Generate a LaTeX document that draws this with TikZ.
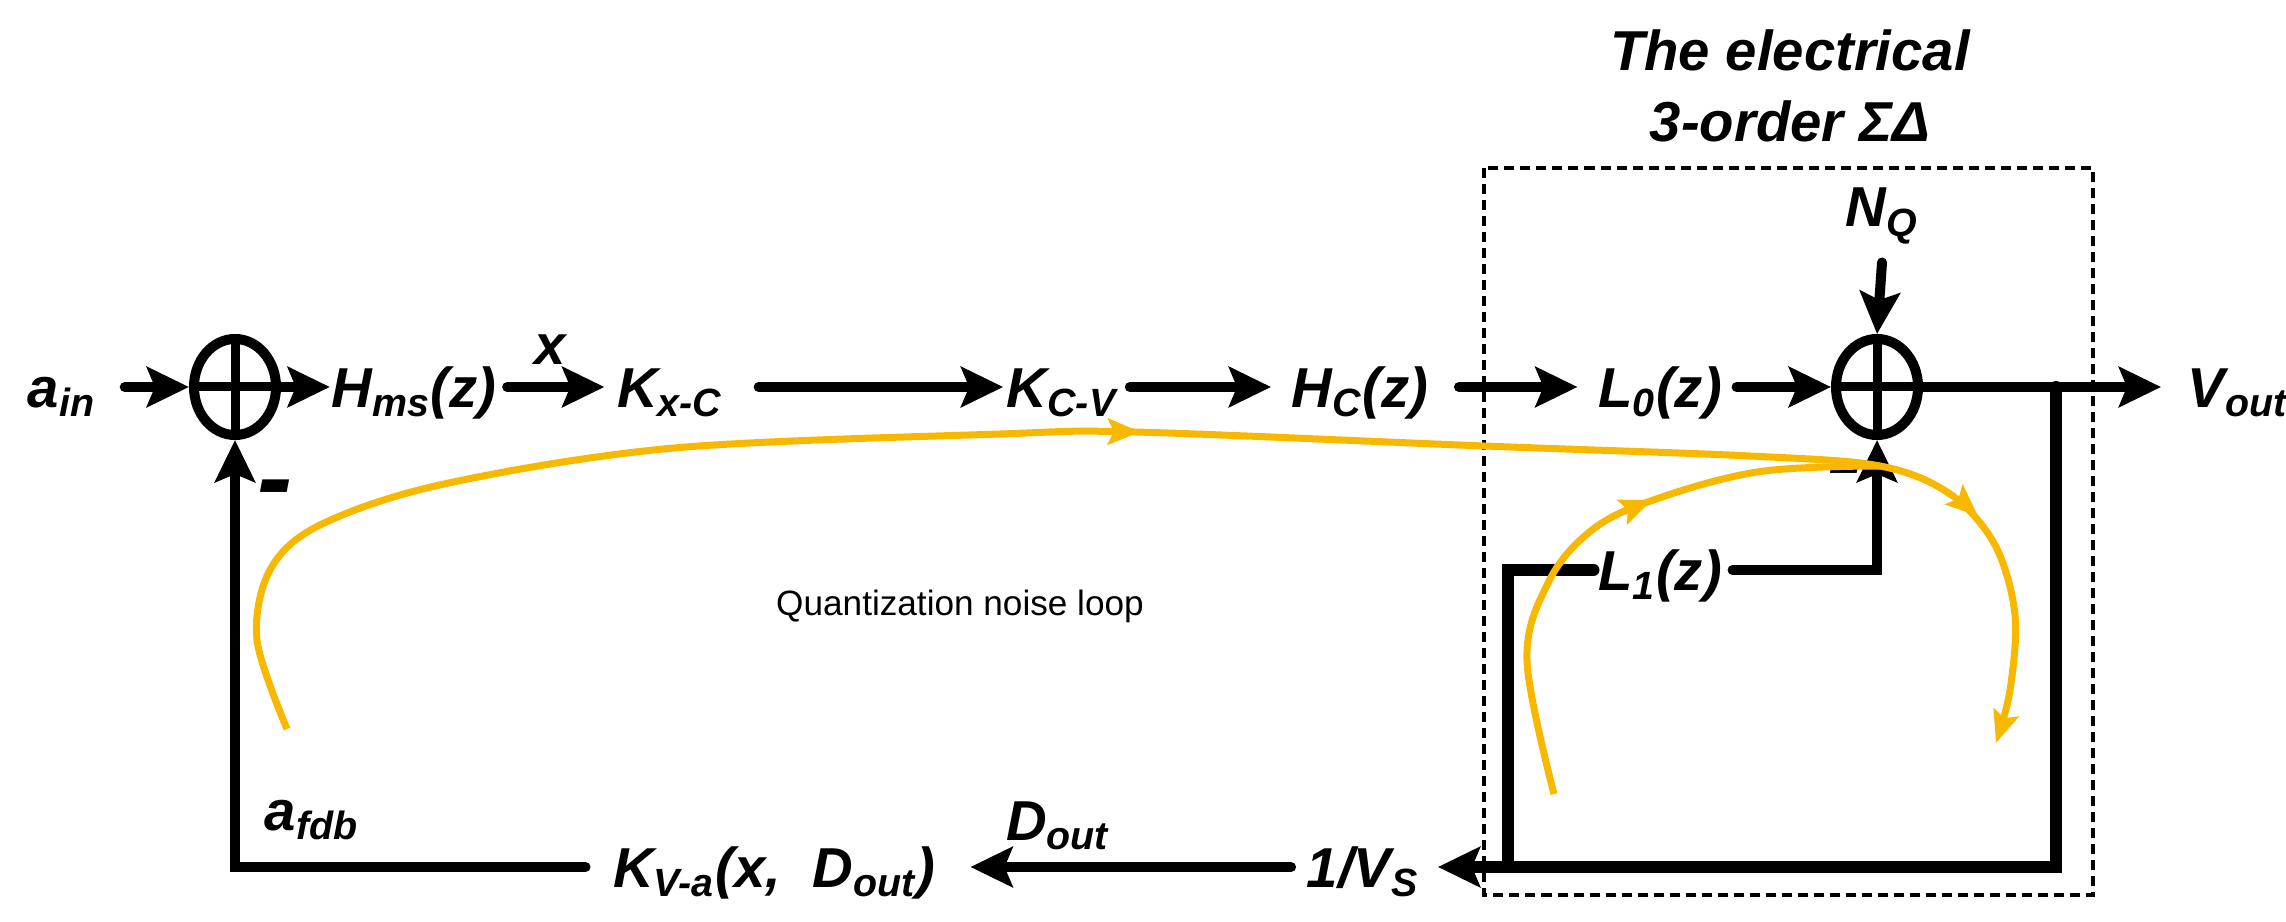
\documentclass[tikz,border=0pt]{standalone}
\usepackage{fontspec}
\setmainfont{Liberation Sans}
\usetikzlibrary{arrows.meta,shapes.geometric}
\definecolor{loopor}{HTML}{F8B800}
\begin{document}
\begin{tikzpicture}[x=0.01cm,y=-0.01cm,
  lbl/.style={inner sep=0pt,text height=0.45cm,text depth=0.05cm,font=\fontsize{16}{19}\selectfont\bfseries\itshape},
  plain/.style={inner sep=0pt,font=\fontsize{16}{19}\selectfont\bfseries\itshape},
  sum/.style={ellipse,draw,line width=0.1cm,minimum width=0.82cm,minimum height=0.96cm,inner sep=0pt},
  wire/.style={line width=0.1cm,line cap=round},
  arr/.style={wire,-{Stealth[length=0.42cm,width=0.4cm,inset=0.08cm]}},
  orng/.style={loopor,line width=0.07cm},
  otip/.style={loopor,line width=0.07cm,-{Stealth[length=0.32cm,width=0.26cm,inset=0.06cm]}},
  minus/.style={inner sep=0pt,font=\fontsize{30}{30}\selectfont\bfseries\itshape}]
\useasboundingbox (0,0) rectangle (2286,922);
% dashed box and title
\draw[line width=0.035cm,dash pattern=on 0.1cm off 0.06cm] (1484,168) rectangle (2093,895);
\node[plain,align=center,font=\fontsize{16}{20}\selectfont\bfseries\itshape] (title) at (1790,86) {The electrical\\3-order ΣΔ};
% nodes
\node[lbl] (ain) at (62,387) {a\textsubscript{in}};
\node[sum] (s1) at (235,387) {};
\draw[line width=0.09cm] (s1.north) -- (s1.south) (s1.west) -- (s1.east);
\node[lbl] (hms) at (414,387) {H\textsubscript{ms}(z)};
\node[plain] (x) at (550,350) {x};
\node[lbl] (kxc) at (670,387) {K\textsubscript{x-C}};
\node[lbl] (kcv) at (1062,387) {K\textsubscript{C-V}};
\node[lbl] (hc) at (1360,387) {H\textsubscript{C}(z)};
\node[lbl] (l0) at (1660,387) {L\textsubscript{0}(z)};
\node[sum] (s2) at (1877,387) {};
\draw[line width=0.09cm] (s2.north) -- (s2.south) (s2.west) -- (s2.east);
\node[plain] (nq) at (1882,216) {N\textsubscript{Q}};
\node[lbl] (vout) at (2238,387) {V\textsubscript{out}};
\node[lbl] (l1) at (1660,570) {L\textsubscript{1}(z)};
\node[lbl] (vs) at (1363,867) {1/V\textsubscript{S}};
\node[lbl] (kva) at (774,867) {K\textsubscript{V-a}(x,\ \ D\textsubscript{out})};
\node[plain] (dout) at (1058,826) {D\textsubscript{out}};
\node[plain] (afdb) at (312,820) {a\textsubscript{fdb}};
\node[inner sep=0pt,font=\fontsize{10}{12}\selectfont] (qnl) at (960,606) {Quantization noise loop};
\node[minus] (m1) at (275,497) {-};
\node[minus] (m2) at (1845,478) {-};
\coordinate (br) at (2056,387);
\coordinate (brb) at (2056,867);
\coordinate (l1l) at (1508,570);
\coordinate (l1b) at (1508,867);
\coordinate (fb) at (235,867);
% forward path
\draw[arr] ([xshift=0.28cm]ain.east) -- (s1.west);
\draw[arr] (s1.east) -- ([xshift=-0.01cm]hms.west);
\draw[arr] ([xshift=0.1cm]hms.east) -- ([xshift=-0.12cm]kxc.west);
\draw[arr] ([xshift=0.35cm]kxc.east) -- ([xshift=-0.03cm]kcv.west);
\draw[arr] ([xshift=0.12cm]kcv.east) -- ([xshift=-0.2cm]hc.west);
\draw[arr] ([xshift=0.3cm]hc.east) -- ([xshift=-0.2cm]l0.west);
\draw[arr] ([xshift=0.14cm]l0.east) -- (s2.west);
\draw[arr] ([yshift=-0.18cm]nq.south) -- (s2.north);
\draw[arr] (s2.east) -- ([xshift=-0.26cm]vout.west);
% inner loops
\draw[wire,line width=0.12cm] (br) -- (brb) -- (l1b) -- (l1l) -- ([xshift=-0.04cm]l1.west);
\draw[arr,line width=0.12cm] (brb) -- ([xshift=0.18cm]vs.east);
\draw[arr] ([xshift=0.1cm]l1.east) -| (s2.south);
% feedback path
\draw[arr] ([xshift=-0.15cm]vs.west) -- ([xshift=0.35cm]kva.east);
\draw[arr] ([xshift=-0.27cm]kva.west) -- (fb) -- (s1.south);
% orange loops
\draw[orng,-{Stealth[length=0.32cm,width=0.26cm,inset=0.06cm]}] plot[smooth,tension=0.55] coordinates {(287,729) (257,640) (270,570) (320,525) (444,484) (674,448) (1000,434) (1135,432) (1484,446) (1750,456) (1880,466) (1950,494) (1995,545) (2015,615) (2010,690) (1996,743)};
\draw[orng] plot[smooth,tension=0.6] coordinates {(1554,794) (1527,661) (1547,585) (1587,534) (1645,503) (1757,472) (1880,466)};
\draw[otip] (1105,431.5) -- (1140,432);
\draw[otip] (1620,513) -- (1652,500);
\draw[otip] (1960,500) -- (1978,516);
\end{tikzpicture}
\end{document}
